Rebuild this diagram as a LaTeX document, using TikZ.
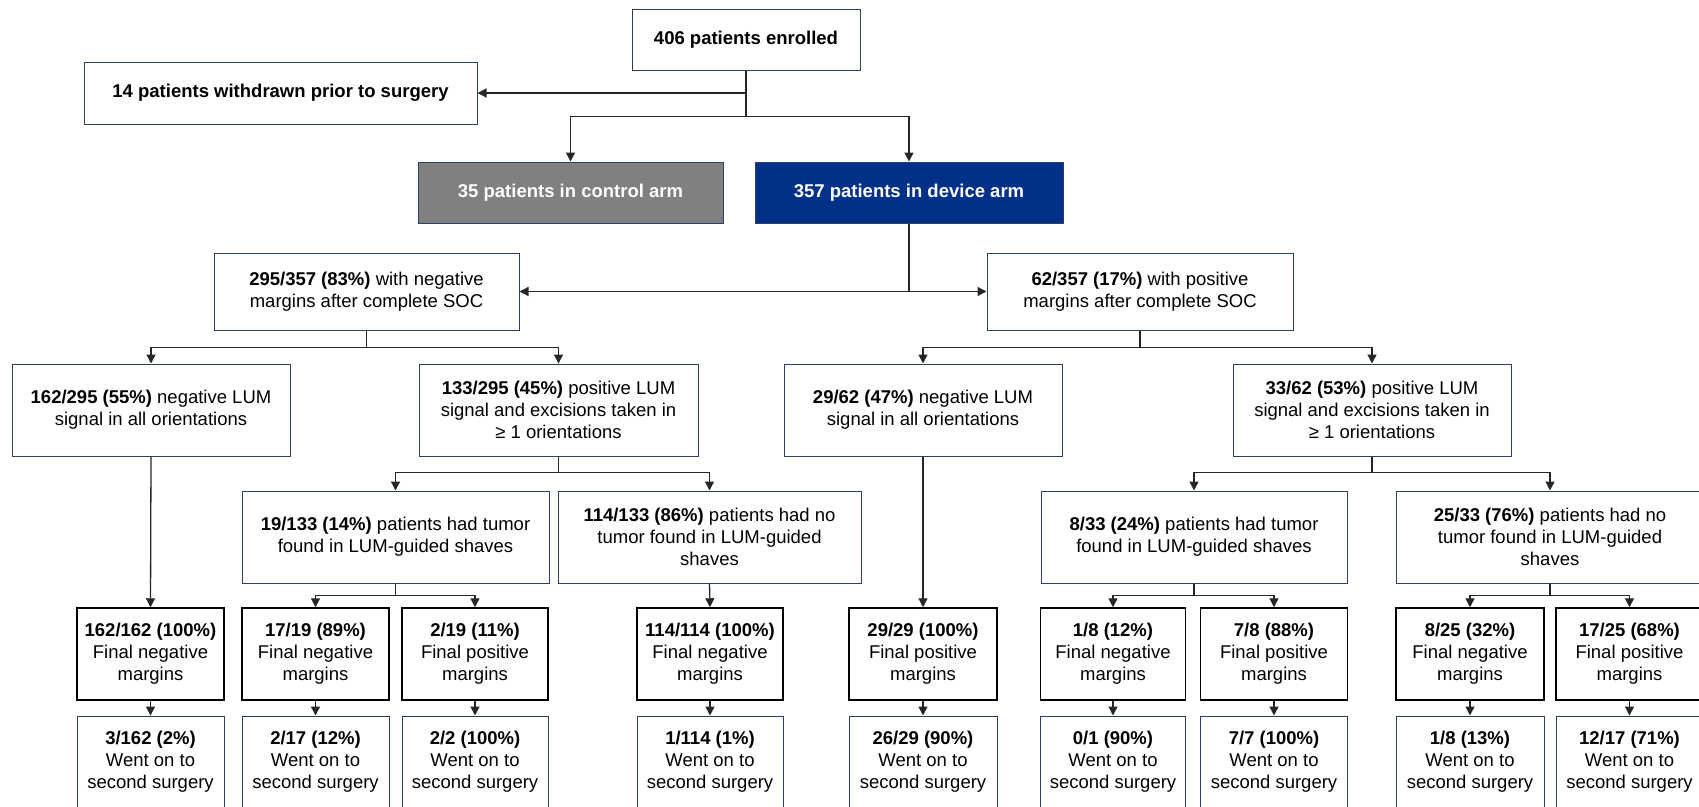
\documentclass[tikz,border=0pt]{standalone}
\usepackage{fontspec}
\setmainfont{Liberation Sans}
\usetikzlibrary{arrows.meta}
\definecolor{boxline}{RGB}{47,63,107}
\definecolor{devblue}{RGB}{0,48,135}
\definecolor{ctrlgray}{RGB}{128,128,128}

\begin{document}
\begin{tikzpicture}[x=1pt, y=-1pt,
  font=\fontsize{18.5}{22}\selectfont,
  box/.style={draw=boxline, line width=1pt, inner sep=0pt, align=center,
              minimum width=#1},
  final/.style={box=#1, draw=black, line width=1.5pt, minimum height=92pt},
  surg/.style={box=#1, minimum height=92pt},
  arr/.style={-{Triangle[length=9pt,width=9pt]}, line width=1.3pt, draw=black!85}
]
  \useasboundingbox (0,0) rectangle (1699,806);
  % Enrolment and arms
  \node[box=228pt, minimum height=61pt] (enrolled)  at (746,39.5)  {\textbf{406 patients enrolled}};
  \node[box=393pt, minimum height=62pt] (withdrawn) at (280.5,93)  {\textbf{14 patients withdrawn prior to surgery}};
  \node[box=305pt, minimum height=61pt, fill=ctrlgray, text=white] (control) at (570.5,192.5)
        {\textbf{35 patients in control arm}};
  \node[box=308pt, minimum height=61pt, fill=devblue, text=white]  (device)  at (909,192.5)
        {\textbf{357 patients in device arm}};
  % Margins after SOC
  \node[box=305pt, minimum height=77pt] (negsoc) at (366.5,291.5)
        {\textbf{295/357 (83\%)} with negative\\margins after complete SOC};
  \node[box=306pt, minimum height=77pt] (possoc) at (1140,291.5)
        {\textbf{62/357 (17\%)} with positive\\margins after complete SOC};
  % LUM signal
  \node[box=278pt, minimum height=92pt] (neglum)  at (151,410)
        {\textbf{162/295 (55\%)} negative LUM\\signal in all orientations};
  \node[box=279pt, minimum height=92pt] (poslum)  at (558.5,410)
        {\textbf{133/295 (45\%)} positive LUM\\signal and excisions taken in\\≥ 1 orientations};
  \node[box=278pt, minimum height=92pt] (neglumB) at (923,410)
        {\textbf{29/62 (47\%)} negative LUM\\signal in all orientations};
  \node[box=278pt, minimum height=92pt] (poslumB) at (1372,410)
        {\textbf{33/62 (53\%)} positive LUM\\signal and excisions taken in\\≥ 1 orientations};
  % Shaves
  \node[box=307pt, minimum height=92pt] (tumor)    at (395.5,537)
        {\textbf{19/133 (14\%)} patients had tumor\\found in LUM-guided shaves};
  \node[box=303pt, minimum height=92pt] (notumor)  at (709.5,537)
        {\textbf{114/133 (86\%)} patients had no\\tumor found in LUM-guided\\shaves};
  \node[box=306pt, minimum height=92pt] (tumorB)   at (1194,537)
        {\textbf{8/33 (24\%)} patients had tumor\\found in LUM-guided shaves};
  \node[box=308pt, minimum height=92pt] (notumorB) at (1550,537)
        {\textbf{25/33 (76\%)} patients had no\\tumor found in LUM-guided\\shaves};
  % Final margins
  \node[final=147pt] (finA) at (150.5,654) {\textbf{162/162 (100\%)}\\Final negative\\margins};
  \node[final=147pt] (finB) at (315.5,654) {\textbf{17/19 (89\%)}\\Final negative\\margins};
  \node[final=146pt] (finC) at (475,654)   {\textbf{2/19 (11\%)}\\Final positive\\margins};
  \node[final=146pt] (finD) at (710,654)   {\textbf{114/114 (100\%)}\\Final negative\\margins};
  \node[final=148pt] (finE) at (923,654)   {\textbf{29/29 (100\%)}\\Final positive\\margins};
  \node[final=145pt] (finF) at (1113,654)  {\textbf{1/8 (12\%)}\\Final negative\\margins};
  \node[final=147pt] (finG) at (1274,654)  {\textbf{7/8 (88\%)}\\Final positive\\margins};
  \node[final=148pt] (finH) at (1470,654)  {\textbf{8/25 (32\%)}\\Final negative\\margins};
  \node[final=147pt] (finI) at (1629.5,654) {\textbf{17/25 (68\%)}\\Final positive\\margins};
  % Second surgery
  \node[surg=147pt] (surgA) at (150.5,762) {\textbf{3/162 (2\%)}\\Went on to\\second surgery};
  \node[surg=147pt] (surgB) at (315.5,762) {\textbf{2/17 (12\%)}\\Went on to\\second surgery};
  \node[surg=146pt] (surgC) at (475,762)   {\textbf{2/2 (100\%)}\\Went on to\\second surgery};
  \node[surg=146pt] (surgD) at (710,762)   {\textbf{1/114 (1\%)}\\Went on to\\second surgery};
  \node[surg=148pt] (surgE) at (923,762)   {\textbf{26/29 (90\%)}\\Went on to\\second surgery};
  \node[surg=145pt] (surgF) at (1113,762)  {\textbf{0/1 (90\%)}\\Went on to\\second surgery};
  \node[surg=147pt] (surgG) at (1274,762)  {\textbf{7/7 (100\%)}\\Went on to\\second surgery};
  \node[surg=148pt] (surgH) at (1470,762)  {\textbf{1/8 (13\%)}\\Went on to\\second surgery};
  \node[surg=147pt] (surgI) at (1629.5,762) {\textbf{12/17 (71\%)}\\Went on to\\second surgery};
  % Connectors
  \draw[arr] (enrolled.south |- withdrawn.east) -- (withdrawn.east);
  \draw[arr] (enrolled.south) -- ++(0,46) -| (control.north);
  \draw[arr] (enrolled.south) -- ++(0,46) -| (device.north);
  \draw[arr] (device.south) |- (negsoc.east);
  \draw[arr] (device.south) |- (possoc.west);
  \draw[arr] (negsoc.south) -- ++(0,17) -| (neglum.north);
  \draw[arr] (negsoc.south) -- ++(0,17) -| (poslum.north);
  \draw[arr] (possoc.south) -- ++(0,17) -| (neglumB.north);
  \draw[arr] (possoc.south) -- ++(0,17) -| (poslumB.north);
  \draw[arr] (poslum.south) -- ++(0,16) -| (tumor.north);
  \draw[arr] (poslum.south) -- ++(0,16) -| (notumor.north);
  \draw[arr] (poslumB.south) -- ++(0,16) -| (tumorB.north);
  \draw[arr] (poslumB.south) -- ++(0,16) -| (notumorB.north);
  \draw[arr] (tumor.south) -- ++(0,12) -| (finB.north);
  \draw[arr] (tumor.south) -- ++(0,12) -| (finC.north);
  \draw[arr] (tumorB.south) -- ++(0,12) -| (finF.north);
  \draw[arr] (tumorB.south) -- ++(0,12) -| (finG.north);
  \draw[arr] (notumorB.south) -- ++(0,12) -| (finH.north);
  \draw[arr] (notumorB.south) -- ++(0,12) -| (finI.north);
  \draw[arr] (neglum.south) -- (finA.north);
  \draw[arr] (notumor.south) -- (finD.north);
  \draw[arr] (neglumB.south) -- (finE.north);
  \draw[arr] (finA) -- (surgA);
  \draw[arr] (finB) -- (surgB);
  \draw[arr] (finC) -- (surgC);
  \draw[arr] (finD) -- (surgD);
  \draw[arr] (finE) -- (surgE);
  \draw[arr] (finF) -- (surgF);
  \draw[arr] (finG) -- (surgG);
  \draw[arr] (finH) -- (surgH);
  \draw[arr] (finI) -- (surgI);
\end{tikzpicture}
\end{document}
